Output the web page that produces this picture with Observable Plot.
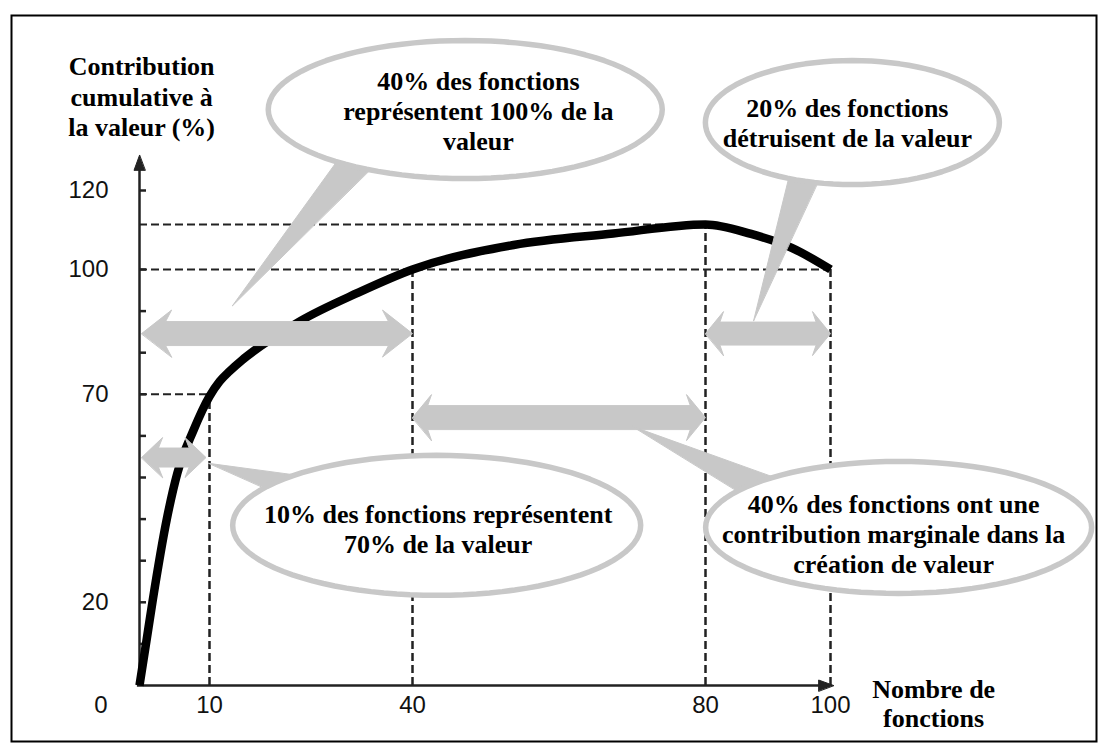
<!DOCTYPE html>
<html><head><meta charset="utf-8">
<script src="https://cdn.jsdelivr.net/npm/d3@7"></script>
<script src="https://cdn.jsdelivr.net/npm/@observablehq/plot@0.6"></script>
<style>html,body{margin:0;padding:0;background:#fff;overflow:hidden}</style>
</head><body><div id="chart"></div>
<script>
// ---- data ----
const curveX = [0, 1, 1.9, 3.9, 5.4, 7.7, 10, 11.5, 13, 14.8, 16.8, 20, 23.4, 31.8, 40, 53.8, 67.4, 80, 87.3, 93.8, 100];
const curveY = [0, 10.8, 20.6, 40, 51, 61.3, 69.5, 73.1, 75.6, 78.2, 80.7, 84.2, 87.6, 94.3, 100, 106.2, 109.1, 111.4, 109, 105.5, 100];

const xTickLabels = [10, 40, 80, 100];
const yTickLabels = [20, 70, 100, 120];
const yTickMarks = [10, 20, 30, 40, 50, 60, 70, 80, 90, 100, 120];
const originLabel = ["0"];

const peak = d3.max(curveY);
const vGuideX = [10, 40, 80, 100];
const vGuideTop = [70, 100, peak, 100];
const hGuideY = [70, 100, peak];
const hGuideRight = [10, 100, 80];

// double arrows (range of functions)
const arrowX1 = [0.3, 40, 80, 0.3];
const arrowX2 = [40, 80, 100, 9.5];
const arrowY = [84.6, 64.4, 84.6, 54.8];

// callouts
const calloutText = [
  "40% des fonctions\nreprésentent 100% de la\nvaleur",
  "20% des fonctions\ndétruisent de la valeur",
  "10% des fonctions représentent\n70% de la valeur",
  "40% des fonctions ont une\ncontribution marginale dans la\ncréation de valeur"
];
const textX = [49.0, 102.7, 43.5, 110.1];
const textY = [140.3, 137.3, 37.7, 36.5];
const bubbleX = [47.2, 103.5, 43.3, 110.9];
const bubbleY = [140.5, 137.2, 38.5, 38.0];
const tipX = [13.4, 87.7, 9.9, 70.0];
const tipY = [91.3, 87.7, 53.4, 62.3];

const yTitle = ["Contribution\ncumulative à\nla valeur (%)"];
const xTitle = ["Nombre de\nfonctions"];

// ---- scales: the hand-drawn original is not evenly spaced, so a warp
// (scale transform) maps values onto a linear Plot scale ----
const xKnots = [0, 10, 40, 80, 100], xPix = [139, 209, 412, 705, 830];
const yKnots = [0, 100, 120], yPix = [685, 269, 190];
const xs = d3.scaleLinear(xKnots, xPix), ys = d3.scaleLinear(yKnots, yPix);
const xLin = d3.scaleLinear([0, 100], [139, 830]);
const yLin = d3.scaleLinear([0, 120], [685, 190]);
const xWarp = d => xLin.invert(xs(d));
const yWarp = d => yLin.invert(ys(d));
const inv = (px, py, id) => ({x: xs.invert(px), y: ys.invert(py), id});

// ---- styles / sizes (pixels) ----
const GRAY = "#c8c8c8";
const BUBBLE_R = [[197, 69], [147, 62], [204, 70], [193, 66]];
const TAIL_ANGLES = [[134, 120], [118, 104], [-131, -150], [-130, -150]];
const ARROW_SIZE = [[30, 23.5, 12], [19, 23, 12], [18, 22, 11.5], [21, 20, 9.5]]; // head length, head half-height, shaft half-height
const AXIS_X_END = 100.5, AXIS_Y_END = 128.9;

// build shapes in pixel space, express them in data units
const bubbles = calloutText.flatMap((t, i) => {
  const cx = xs(bubbleX[i]), cy = ys(bubbleY[i]), [rx, ry] = BUBBLE_R[i];
  return d3.range(96).map(k => {
    const a = k / 96 * 2 * Math.PI;
    return inv(cx + rx * Math.cos(a), cy + ry * Math.sin(a), i);
  });
});
const tails = calloutText.flatMap((t, i) => {
  const cx = xs(bubbleX[i]), cy = ys(bubbleY[i]), [rx, ry] = BUBBLE_R[i];
  const pts = [{x: tipX[i], y: tipY[i], id: "t" + i}];
  TAIL_ANGLES[i].forEach(deg => {
    const a = deg * Math.PI / 180;
    pts.push(inv(cx + 0.9 * rx * Math.cos(a), cy + 0.9 * ry * Math.sin(a), "t" + i));
  });
  return pts;
});
const arrows = arrowX1.flatMap((x1v, i) => {
  const x1 = xs(x1v), x2 = xs(arrowX2[i]), cy = ys(arrowY[i]);
  const [h, H, s] = ARROW_SIZE[i];
  const id = "a" + i;
  return [
    [x1, cy], [x1 + h, cy - H], [x1 + h * 0.8, cy - s], [x2 - h * 0.8, cy - s], [x2 - h, cy - H],
    [x2, cy], [x2 - h, cy + H], [x2 - h * 0.8, cy + s], [x1 + h * 0.8, cy + s], [x1 + h, cy + H]
  ].map(([px, py]) => inv(px, py, id));
});
const axisHeads = [
  ...[[xs(AXIS_X_END), ys(0)], [xs(AXIS_X_END) - 15, ys(0) - 5.5], [xs(AXIS_X_END) - 15, ys(0) + 5.5]].map(([a, b]) => inv(a, b, "hx")),
  ...[[xs(0), ys(AXIS_Y_END)], [xs(0) - 5.5, ys(AXIS_Y_END) + 15], [xs(0) + 5.5, ys(AXIS_Y_END) + 15]].map(([a, b]) => inv(a, b, "hy"))
];

const curve = curveX.map((x, i) => ({x, y: curveY[i]}));
const serif = "Liberation Serif, Times New Roman, serif";
const sans = "Liberation Sans, Arial, sans-serif";

const chart = Plot.plot({
  width: 1107, height: 751,
  marginLeft: 11, marginTop: 15, marginRight: 11, marginBottom: 10,
  x: {type: "linear", domain: [0, 100], range: [139, 830], transform: xWarp, axis: null},
  y: {type: "linear", domain: [0, 120], range: [685, 190], transform: yWarp, axis: null},
  marks: [
    Plot.frame({stroke: "#000", strokeWidth: 2}),
    // dashed guides
    Plot.ruleX(vGuideX, {x: d => d, y1: 0, y2: (d, i) => vGuideTop[i], stroke: "#222", strokeWidth: 2.5, strokeDasharray: "8,4"}),
    Plot.ruleY(hGuideY, {y: d => d, x1: 0, x2: (d, i) => hGuideRight[i], stroke: "#222", strokeWidth: 2, strokeDasharray: "8,4"}),
    // axes
    Plot.ruleY([0], {x1: -0.3, x2: AXIS_X_END - 1, stroke: "#222", strokeWidth: 2.5}),
    Plot.ruleX([0], {y1: 0, y2: AXIS_Y_END - 2, stroke: "#222", strokeWidth: 2.5}),
    Plot.ruleY(yTickMarks, {y: d => d, x1: 0, x2: 1, stroke: "#222", strokeWidth: 2.5}),
    Plot.line(axisHeads, {x: "x", y: "y", z: "id", fill: "#222", stroke: "#222", strokeWidth: 1, curve: "linear-closed"}),
    Plot.text(yTickLabels, {x: 0, y: d => d, text: d => String(d), dx: -31, textAnchor: "end", fontFamily: sans, fontSize: 24, fill: "#111"}),
    Plot.text(xTickLabels, {x: d => d, y: 0, text: d => String(d), dy: 20, fontFamily: sans, fontSize: 24, fill: "#111"}),
    Plot.text(originLabel, {x: 0, y: 0, text: d => d, dx: -32, dy: 20, textAnchor: "end", fontFamily: sans, fontSize: 24, fill: "#111"}),
    // the curve
    Plot.line(curve, {x: "x", y: "y", stroke: "#000", strokeWidth: 8.5, curve: "monotone-x", strokeLinecap: "butt"}),
    // gray arrows and callout tails
    Plot.line(arrows, {x: "x", y: "y", z: "id", fill: GRAY, stroke: GRAY, strokeWidth: 1, curve: "linear-closed"}),
    Plot.line(tails, {x: "x", y: "y", z: "id", fill: GRAY, stroke: GRAY, strokeWidth: 1, curve: "linear-closed"}),
    // bubbles
    Plot.line(bubbles, {x: "x", y: "y", z: "id", fill: "#fff", stroke: GRAY, strokeWidth: 5.5, curve: "linear-closed"}),
    Plot.text(calloutText, {x: (d, i) => textX[i], y: (d, i) => textY[i], text: d => d, fontFamily: serif, fontWeight: "bold", fontSize: 26, lineHeight: 1.15, fill: "#000"}),
    // axis titles
    Plot.text(yTitle, {x: 0.3, y: 144, text: d => d, fontFamily: serif, fontWeight: "bold", fontSize: 26, lineHeight: 1.18, fill: "#000"}),
    Plot.text(xTitle, {x: 116.5, y: -4.3, text: d => d, fontFamily: serif, fontWeight: "bold", fontSize: 26, lineHeight: 1.1, fill: "#000"})
  ]
});
document.getElementById("chart").appendChild(chart);
</script>
</body></html>
